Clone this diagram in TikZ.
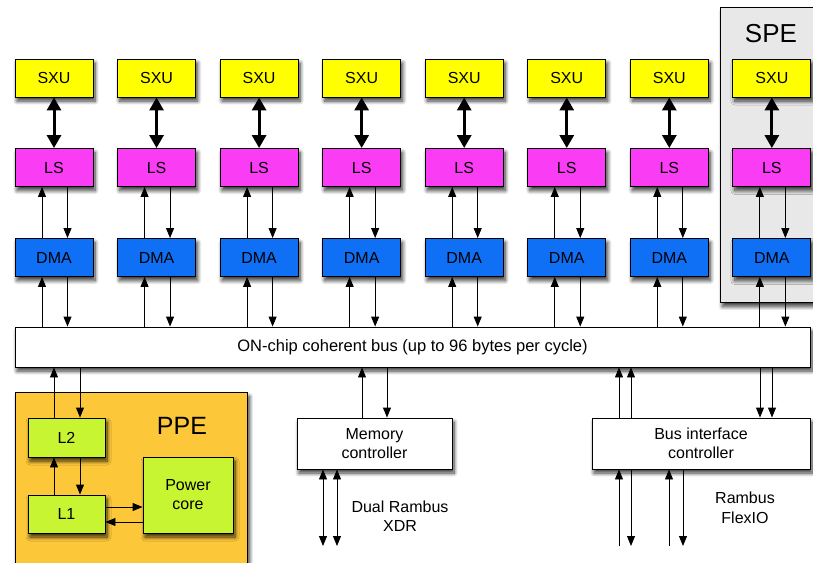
\documentclass[tikz,border=0pt]{standalone}
\usepackage{fontspec}
\setmainfont{Liberation Sans}
\usetikzlibrary{arrows.meta,shadows.blur,calc}
\definecolor{sxucol}{RGB}{255,255,0}
\definecolor{lscol}{RGB}{250,60,245}
\definecolor{dmacol}{RGB}{15,112,245}
\definecolor{ppecol}{RGB}{253,199,58}
\definecolor{cachecol}{RGB}{200,245,50}
\definecolor{specol}{RGB}{232,232,232}
\tikzset{
  shad/.style={blur shadow={shadow xshift=2pt, shadow yshift=-4pt, shadow blur steps=8, shadow blur radius=4pt, shadow opacity=80}},
  box/.style={draw=black, line width=0.9pt, minimum width=78pt, minimum height=38pt, inner sep=0pt, font=\fontsize{16}{19}\selectfont, align=center, shad},
  sxubox/.style={box, fill=sxucol},
  lsbox/.style={box, fill=lscol},
  dmabox/.style={box, fill=dmacol},
  cachebox/.style={box, fill=cachecol},
  whitebox/.style={box, fill=white},
  arr/.style={line width=0.9pt, -{Triangle[length=10pt,width=8pt]}},
  darr/.style={line width=0.9pt, {Triangle[length=10pt,width=8pt]}-{Triangle[length=10pt,width=8pt]}},
  thickarr/.style={line width=3pt, {Triangle[length=13pt,width=14pt]}-{Triangle[length=13pt,width=14pt]}},
  lbl/.style={font=\fontsize{16}{19.5}\selectfont, align=center}
}
\begin{document}
\begin{tikzpicture}[x=1pt,y=-1pt]
\useasboundingbox (0,0) rectangle (813,562);
% SPE container
\node[draw=black, line width=0.9pt, fill=specol, minimum width=110pt, minimum height=295pt, anchor=north west, inner sep=0pt, shad] (spe) at (720,7) {};
\node[font=\fontsize{26}{28}\selectfont] (spelbl) at (771,34) {SPE};
% PPE container
\node[draw=black, line width=0.9pt, fill=ppecol, minimum width=232pt, minimum height=180pt, anchor=north west, inner sep=0pt, shad] (ppe) at (15,392) {};
\node[font=\fontsize{25}{27}\selectfont] (ppelbl) at (182,426) {PPE};
% bus
\node[whitebox, minimum width=795pt, minimum height=40pt, font=\fontsize{16.5}{19}\selectfont] (bus) at (412.5,347) {ON-chip coherent bus (up to 96 bytes per cycle)};
% SPE columns
\foreach \i in {1,...,8} {
  \pgfmathsetmacro{\cx}{54+102.55*(\i-1)}
  \node[sxubox] (sxu\i) at (\cx,78) {SXU};
  \node[lsbox] (ls\i) at (\cx,167.5) {LS};
  \node[dmabox] (dma\i) at (\cx,257.5) {DMA};
  \draw[thickarr] (sxu\i.south) -- (ls\i.north);
  \draw[arr] ([xshift=-12pt]dma\i.north) -- ([xshift=-12pt]ls\i.south);
  \draw[arr] ([xshift=13.5pt]ls\i.south) -- ([xshift=13.5pt]dma\i.north);
  \draw[arr] ([xshift=-12pt]dma\i.south |- bus.north) -- ([xshift=-12pt]dma\i.south);
  \draw[arr] ([xshift=13.5pt]dma\i.south) -- ([xshift=13.5pt]dma\i.south |- bus.north);
}
% PPE internals
\node[cachebox, minimum width=77pt, minimum height=39pt] (l2) at (66.5,437.5) {L2};
\node[cachebox, minimum width=77pt, minimum height=38pt] (l1) at (66.5,514) {L1};
\node[cachebox, minimum width=90pt, minimum height=76pt] (core) at (188,495) {Power\\core};
\draw[arr] ([xshift=-12.5pt]l2.north) -- ([xshift=-12.5pt]l2.north |- bus.south);
\draw[arr] ([xshift=13.5pt]l2.north |- bus.south) -- ([xshift=13.5pt]l2.north);
\draw[arr] ([xshift=-12.5pt]l1.north) -- ([xshift=-12.5pt]l2.south);
\draw[arr] ([xshift=13.5pt]l2.south) -- ([xshift=13.5pt]l1.north);
\draw[arr] ([yshift=7pt]l1.east) -- ([yshift=7pt]l1.east -| core.west);
\draw[arr] ([yshift=-8pt]l1.east -| core.west) -- ([yshift=-8pt]l1.east);
% Memory controller
\node[whitebox, minimum width=155pt, minimum height=51pt] (mem) at (374.5,443.5) {Memory\\controller};
\draw[arr] ([xshift=-12.5pt]mem.north) -- ([xshift=-12.5pt]mem.north |- bus.south);
\draw[arr] ([xshift=12.5pt]mem.north |- bus.south) -- ([xshift=12.5pt]mem.north);
\coordinate (memA) at (323,546);
\coordinate (memB) at (337,546);
\draw[darr] (memA |- mem.south) -- (memA);
\draw[darr] (memB |- mem.south) -- (memB);
\node[lbl] (xdr) at (400,516) {Dual Rambus\\XDR};
% Bus interface controller
\node[whitebox, minimum width=218pt, minimum height=51pt] (bic) at (701,443.5) {Bus interface\\controller};
\coordinate (bA) at (619,546);
\coordinate (bB) at (631,546);
\coordinate (bC) at (669,546);
\coordinate (bD) at (683,546);
\coordinate (bE) at (760,0);
\coordinate (bF) at (772,0);
\draw[arr] (bA |- bic.north) -- (bA |- bus.south);
\draw[arr] (bB |- bic.north) -- (bB |- bus.south);
\draw[arr] (bE |- bus.south) -- (bE |- bic.north);
\draw[arr] (bF |- bus.south) -- (bF |- bic.north);
\draw[arr] (bA) -- (bA |- bic.south);
\draw[arr] (bB |- bic.south) -- (bB);
\draw[arr] (bC) -- (bC |- bic.south);
\draw[arr] (bD |- bic.south) -- (bD);
\node[lbl] (flexio) at (745,508) {Rambus\\FlexIO};
\end{tikzpicture}
\end{document}
